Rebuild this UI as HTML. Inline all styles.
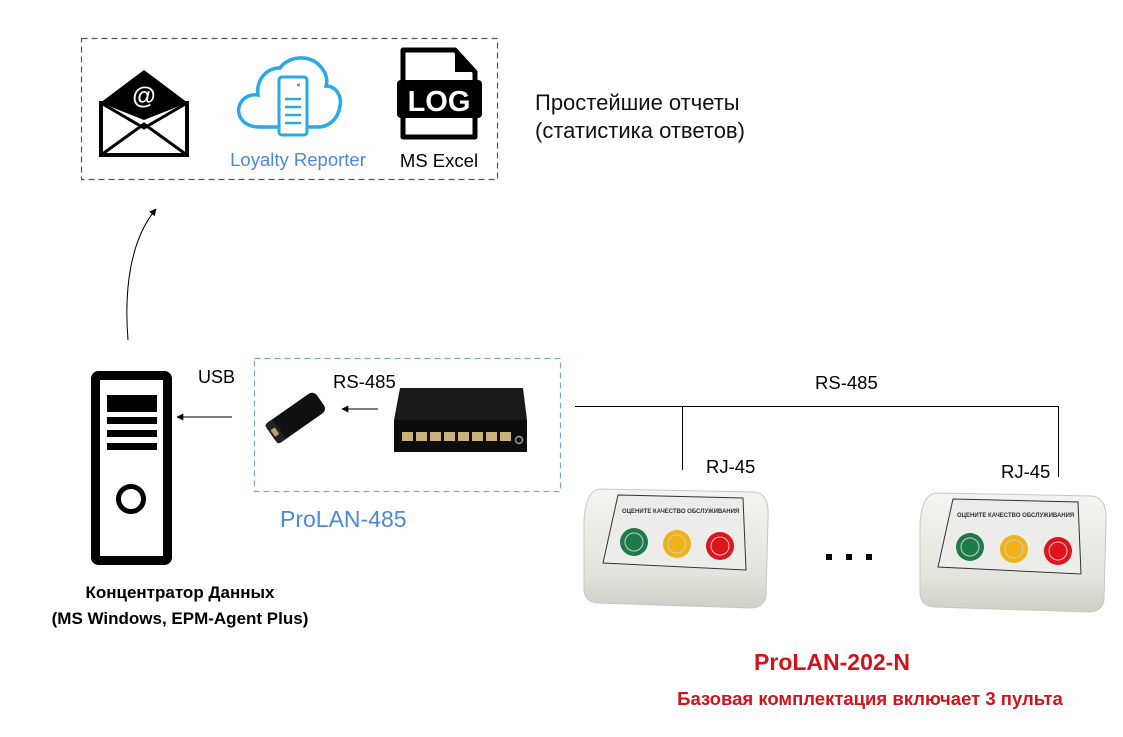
<!DOCTYPE html>
<html><head><meta charset="utf-8"><style>
html,body{margin:0;padding:0;background:#fff;}
svg{display:block;}
text{font-family:"Liberation Sans",sans-serif;}
</style></head><body>
<svg width="1123" height="737" viewBox="0 0 1123 737" xmlns="http://www.w3.org/2000/svg">
<defs>
<marker id="ah" viewBox="0 0 10 10" refX="9" refY="5" markerWidth="9" markerHeight="7" orient="auto-start-reverse" markerUnits="userSpaceOnUse"><path d="M0,0 L10,5 L0,10 z" fill="#000"/></marker>
<linearGradient id="dev" x1="0" y1="0" x2="0" y2="1"><stop offset="0" stop-color="#f4f4f0"/><stop offset="0.7" stop-color="#e4e4de"/><stop offset="1" stop-color="#cfcfc8"/></linearGradient>
</defs>
<rect x="81.5" y="38.5" width="416" height="141" fill="none" stroke="#555" stroke-width="1.2" stroke-dasharray="6,4"/>
<path d="M100,103 L144,70 L188,103 Z" fill="#000"/>
<rect x="101" y="103" width="86" height="52" fill="#fff" stroke="#000" stroke-width="4"/>
<path d="M101,103 L144,128 L187,103" fill="none" stroke="#000" stroke-width="3"/>
<path d="M101,155 L144,124 L187,155" fill="none" stroke="#000" stroke-width="3"/>
<path d="M101,103 L144,120 L187,103 Z" fill="#000"/>
<text x="144" y="104" font-size="24" font-weight="bold" fill="#fff" text-anchor="middle">@</text>
<path d="M260,127 C240,127 236,112 240,104 C244,96 252,94 258,95 C256,80 266,68 280,68 C288,56 310,54 320,66 C326,72 328,80 326,86 C336,86 342,96 340,106 C338,120 328,127 318,127 Z" fill="none" stroke="#29a9e6" stroke-width="3.5"/>
<rect x="279" y="77" width="28" height="58" rx="3" fill="#fff" stroke="#29a9e6" stroke-width="3"/>
<g stroke="#29a9e6" stroke-width="2.5"><line x1="297" y1="85" x2="300" y2="85"/><line x1="285" y1="99" x2="301" y2="99"/><line x1="285" y1="107" x2="301" y2="107"/><line x1="285" y1="115" x2="301" y2="115"/><line x1="285" y1="123" x2="301" y2="123"/></g>
<text x="298" y="166" font-size="18.5" fill="#4a8ad6" text-anchor="middle">Loyalty Reporter</text>
<path d="M403,50 L455,50 L475,72 L475,137 L403,137 Z" fill="#fff" stroke="#000" stroke-width="5" stroke-linejoin="round"/>
<path d="M455,50 L455,72 L475,72 Z" fill="#000"/>
<rect x="397" y="80" width="85" height="38" rx="4" fill="#000"/>
<text x="439" y="111" font-size="29" font-weight="bold" fill="#fff" text-anchor="middle">LOG</text>
<text x="439" y="167" font-size="18.5" fill="#000" text-anchor="middle">MS Excel</text>
<text x="535" y="110" font-size="22" fill="#111">Простейшие отчеты</text>
<text x="535" y="138" font-size="22" fill="#111">(статистика ответов)</text>
<path d="M128,340 C124,290 130,240 156,209" fill="none" stroke="#000" stroke-width="1" marker-end="url(#ah)"/>
<rect x="95.5" y="375.5" width="72" height="185" rx="3" fill="#fff" stroke="#000" stroke-width="9"/>
<rect x="107" y="395" width="50" height="17" fill="#000"/>
<rect x="107" y="417" width="50" height="7" fill="#000"/>
<rect x="107" y="430" width="50" height="7" fill="#000"/>
<rect x="107" y="443" width="50" height="7" fill="#000"/>
<circle cx="131" cy="499" r="12.5" fill="none" stroke="#000" stroke-width="5"/>
<text x="180" y="598" font-size="17" font-weight="bold" fill="#000" text-anchor="middle">Концентратор Данных</text>
<text x="180" y="624" font-size="17" font-weight="bold" fill="#000" text-anchor="middle">(MS Windows, EPM-Agent Plus)</text>
<text x="198" y="383" font-size="18" fill="#000">USB</text>
<line x1="232" y1="417" x2="177" y2="417" stroke="#000" stroke-width="1" marker-end="url(#ah)"/>
<rect x="254.5" y="358.5" width="306" height="133" fill="none" stroke="#7aa8dc" stroke-width="1.2" stroke-dasharray="6,4"/>
<text x="280" y="527" font-size="23" fill="#4a8ad6">ProLAN-485</text>
<g transform="rotate(-35 295 418)">
<rect x="266" y="406" width="60" height="24" rx="6" fill="#111"/>
<rect x="266" y="406" width="10" height="24" rx="3" fill="#222"/>
<rect x="268" y="414" width="5" height="8" fill="#b8a070"/>
</g>
<text x="333" y="388" font-size="18.5" fill="#000">RS-485</text>
<line x1="378" y1="409" x2="342" y2="409" stroke="#000" stroke-width="1" marker-end="url(#ah)"/>
<path d="M400,388 L523,388 L527,420 L394,420 Z" fill="#1a1a1a"/>
<rect x="394" y="420" width="133" height="32" fill="#0d0d0d"/>
<g fill="#c9b27a">
<rect x="402" y="432" width="11" height="9"/><rect x="416" y="432" width="11" height="9"/><rect x="430" y="432" width="11" height="9"/><rect x="444" y="432" width="11" height="9"/><rect x="458" y="432" width="11" height="9"/><rect x="472" y="432" width="11" height="9"/><rect x="486" y="432" width="11" height="9"/><rect x="500" y="432" width="11" height="9"/>
</g>
<circle cx="519" cy="440" r="3.5" fill="none" stroke="#999" stroke-width="1.5"/>
<g stroke="#000" stroke-width="1" fill="none">
<line x1="575" y1="406.5" x2="1058" y2="406.5"/>
<line x1="682.5" y1="406" x2="682.5" y2="470"/>
<line x1="1058.5" y1="406" x2="1058.5" y2="477"/>
</g>
<text x="815" y="389" font-size="18.5" fill="#000">RS-485</text>
<text x="706" y="473" font-size="18.5" fill="#000">RJ-45</text>
<text x="1001" y="478" font-size="18.5" fill="#000">RJ-45</text>
<g>
<path d="M600,489 L755,492 Q770,494 768,520 L766,596 Q764,608 750,608 L598,603 Q584,602 584,588 L584,520 Q586,490 600,489 Z" fill="url(#dev)" stroke="#c8c8c2" stroke-width="1"/>
<path d="M618,495 L743,498 L746,570 L603,563 Z" fill="#ececea" stroke="#333" stroke-width="1"/>
<text x="622" y="513" font-size="6" font-weight="bold" fill="#333">ОЦЕНИТЕ КАЧЕСТВО ОБСЛУЖИВАНИЯ</text>
<circle cx="634" cy="542" r="14" fill="#1f7a4a"/><circle cx="677" cy="544" r="14" fill="#f2b318"/><circle cx="720" cy="546" r="14" fill="#e0141b"/>
<circle cx="634" cy="542" r="9" fill="none" stroke="#ccc" stroke-width="1"/><circle cx="677" cy="544" r="9" fill="none" stroke="#ccc" stroke-width="1"/><circle cx="720" cy="546" r="9" fill="none" stroke="#ccc" stroke-width="1"/>
</g>
<g>
<path d="M936,493 L1092,496 Q1108,498 1106,524 L1104,600 Q1102,612 1088,612 L934,607 Q920,606 920,592 L920,524 Q922,494 936,493 Z" fill="url(#dev)" stroke="#c8c8c2" stroke-width="1"/>
<path d="M953,499 L1078,502 L1081,574 L938,567 Z" fill="#ececea" stroke="#333" stroke-width="1"/>
<text x="957" y="517" font-size="6" font-weight="bold" fill="#333">ОЦЕНИТЕ КАЧЕСТВО ОБСЛУЖИВАНИЯ</text>
<circle cx="970" cy="547" r="14" fill="#1f7a4a"/><circle cx="1014" cy="549" r="14" fill="#f2b318"/><circle cx="1058" cy="551" r="14" fill="#e0141b"/>
<circle cx="970" cy="547" r="9" fill="none" stroke="#ccc" stroke-width="1"/><circle cx="1014" cy="549" r="9" fill="none" stroke="#ccc" stroke-width="1"/><circle cx="1058" cy="551" r="9" fill="none" stroke="#ccc" stroke-width="1"/>
</g>
<rect x="826" y="554" width="6" height="6" fill="#000"/><rect x="846" y="554" width="6" height="6" fill="#000"/><rect x="866" y="554" width="6" height="6" fill="#000"/>
<text x="832" y="670" font-size="23" font-weight="bold" fill="#d0141b" text-anchor="middle">ProLAN-202-N</text>
<text x="870" y="705" font-size="18.5" font-weight="bold" fill="#d0141b" text-anchor="middle">Базовая комплектация включает 3 пульта</text>
</svg>
</body></html>
